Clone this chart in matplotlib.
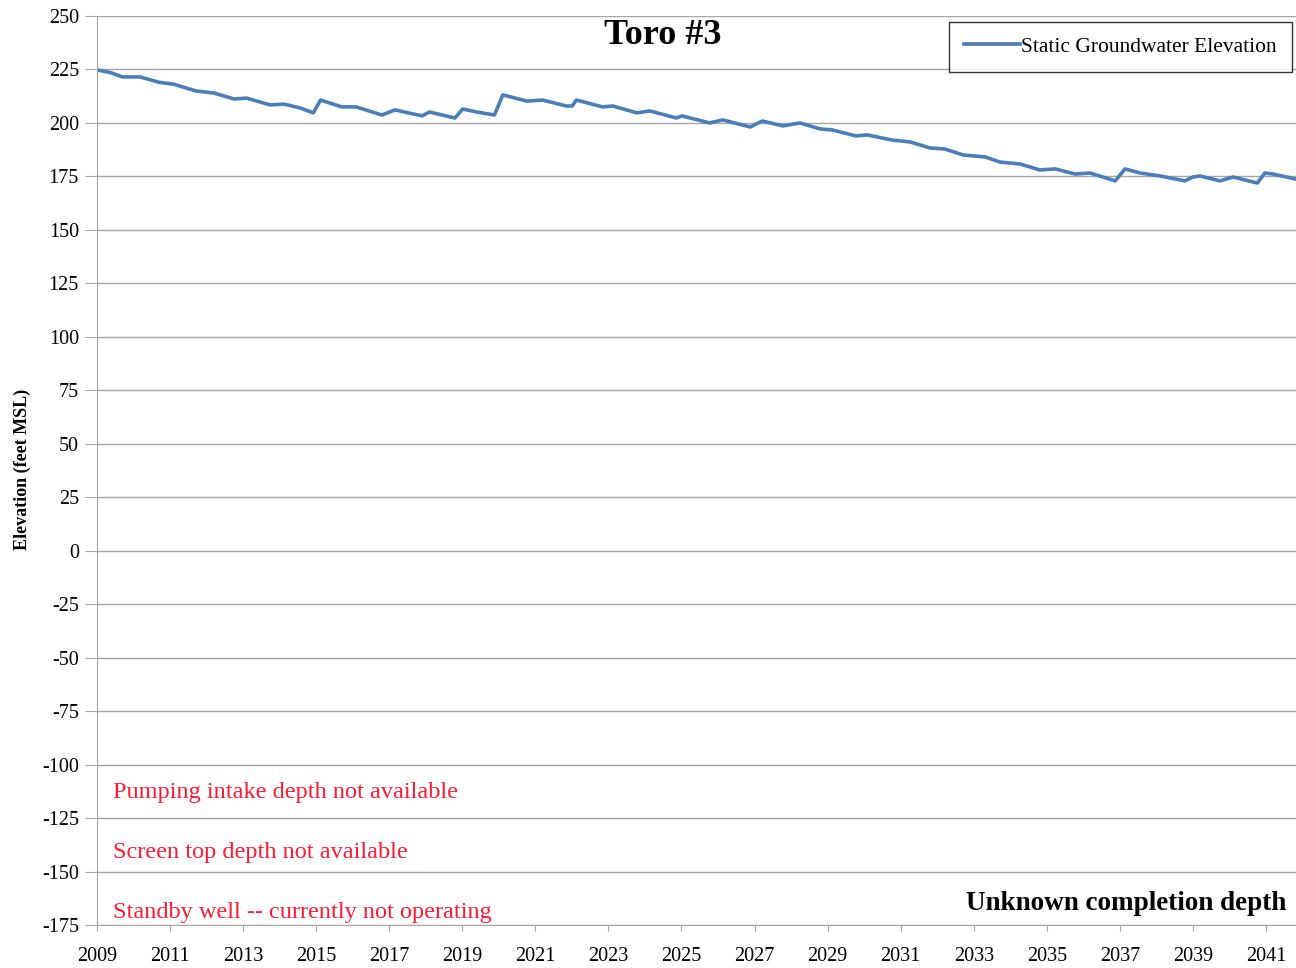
import matplotlib.pyplot as plt

plt.rcParams['font.family'] = ['Liberation Serif', 'DejaVu Serif']
plt.rcParams['axes.unicode_minus'] = False

# static groundwater elevation
years = [2009.00, 2009.36, 2009.70, 2010.18, 2010.70, 2011.10, 2011.72, 2012.20,
         2012.75, 2013.10, 2013.74, 2014.12, 2014.56, 2014.92, 2015.12, 2015.70,
         2016.09, 2016.80, 2017.16, 2017.52, 2017.90, 2018.10, 2018.80, 2019.01,
         2019.40, 2019.88, 2020.11, 2020.77, 2021.20, 2021.85, 2022.01, 2022.12,
         2022.84, 2023.12, 2023.78, 2024.13, 2024.86, 2025.01, 2025.77, 2026.13,
         2026.88, 2027.21, 2027.78, 2028.24, 2028.79, 2029.13, 2029.78, 2030.08,
         2030.76, 2031.26, 2031.80, 2032.21, 2032.71, 2033.31, 2033.72, 2034.27,
         2034.81, 2035.23, 2035.77, 2036.18, 2036.87, 2037.14, 2037.55, 2038.10,
         2038.78, 2039.00, 2039.19, 2039.74, 2040.10, 2040.76, 2040.97, 2041.19,
         2041.80]
elev = [224.8, 223.6, 221.5, 221.5, 219.0, 218.1, 214.9, 214.0,
        211.2, 211.6, 208.4, 208.8, 207.0, 204.7, 210.7, 207.5,
        207.5, 203.7, 206.1, 204.7, 203.3, 205.1, 202.3, 206.5,
        205.1, 203.7, 213.1, 210.2, 210.7, 207.9, 207.9, 210.7,
        207.5, 207.9, 204.7, 205.6, 202.3, 203.3, 200.0, 201.4,
        198.1, 200.9, 198.6, 200.0, 197.2, 196.7, 193.9, 194.4,
        192.0, 191.1, 188.3, 187.8, 185.0, 184.1, 181.7, 180.8,
        178.0, 178.5, 176.1, 176.6, 172.9, 178.5, 176.6, 175.2,
        172.9, 174.7, 175.2, 172.9, 174.7, 171.9, 176.6, 176.1,
        173.8]

x_ticks = list(range(2009, 2042, 2))
y_ticks = list(range(-175, 251, 25))

notes = ["Pumping intake depth not available",
         "Screen top depth not available",
         "Standby well -- currently not operating"]

fig = plt.figure(figsize=(12.96, 9.68), dpi=100)
ax = fig.add_axes([0.0748, 0.0444, 0.9252, 0.9391])

ax.plot(years, elev, color='#4a7ebb', lw=2.6, label='Static Groundwater Elevation',
        solid_joinstyle='round')

ax.set_xlim(2009, 2041.82)
ax.set_ylim(-175, 250)
ax.set_xticks(x_ticks)
ax.set_yticks(y_ticks)
ax.yaxis.grid(True, color='#a6a6a6', lw=1)
ax.set_axisbelow(True)
for s in ['top', 'right']:
    ax.spines[s].set_visible(False)
for s in ['left', 'bottom']:
    ax.spines[s].set_color('#a6a6a6')
ax.tick_params(axis='y', length=9, color='#a6a6a6', labelsize=14.5, pad=4)
ax.tick_params(axis='x', length=4, color='#a6a6a6', labelsize=14.5, pad=12)

fig.text(0.017, 0.515, 'Elevation (feet MSL)', rotation=90, ha='center', va='center',
         fontsize=13, fontweight='bold')

ax.text(0.4715, 0.979, 'Toro #3', transform=ax.transAxes, ha='center', va='center',
        fontsize=26, fontweight='bold')

leg = ax.legend(loc='upper right', bbox_to_anchor=(0.9967, 0.9935), fontsize=15.5,
                fancybox=False, edgecolor='black', handlelength=2.6,
                handletextpad=0.05, borderpad=0.7, borderaxespad=0)
leg.get_frame().set_linewidth(1.0)

for i, t in enumerate(notes):
    ax.text(2009.43, -113 - 28 * i, t, color='#ff1a33', fontsize=17.5,
            ha='left', va='center')

ax.text(0.9915, 0.024, 'Unknown completion depth', transform=ax.transAxes,
        ha='right', va='center', fontsize=19.5, fontweight='bold')

fig.savefig('out.png', dpi=100)
